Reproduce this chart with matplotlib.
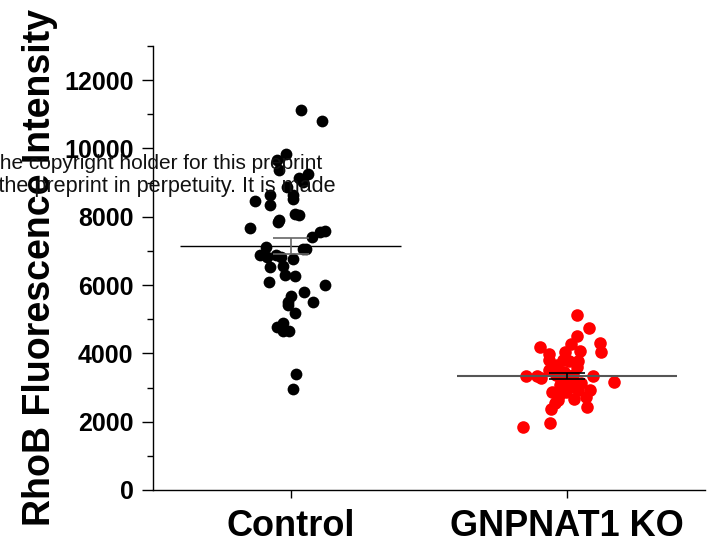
import matplotlib
matplotlib.use("Agg")
import matplotlib.pyplot as plt
import numpy as np

plt.rcParams['font.family'] = ['Liberation Sans', 'DejaVu Sans']

# groups
groups = ["Control", "GNPNAT1 KO"]

# control cells: intensity and horizontal scatter offset
ctrl_vals = [11120, 10790, 9850, 9650, 9380, 9265, 9120, 9030, 8880, 8650,
             8650, 8530, 8470, 8350, 8090, 8060, 7850, 7910, 7680, 7410,
             7560, 7590, 7120, 6880, 6820, 6880, 6820, 7060, 7060, 6760,
             6530, 6560, 6290, 6260, 6090, 6000, 5790, 5680, 5500, 5410,
             5500, 5180, 4760, 4880, 4650, 4650, 3410, 2970]
ctrl_off = [0.036, 0.113, -0.018, -0.051, -0.044, 0.062, 0.029, 0.044, -0.015, -0.076,
            0.007, 0.007, -0.131, -0.076, 0.015, 0.029, -0.047, -0.044, -0.149, 0.076,
            0.105, 0.124, -0.091, -0.113, -0.087, -0.055, -0.036, 0.044, 0.055, 0.007,
            -0.076, -0.029, -0.022, 0.015, -0.080, 0.124, 0.047, 0.000, -0.011, -0.011,
            0.080, 0.015, -0.051, -0.029, -0.029, -0.007, 0.018, 0.007]

# knockout cells
ko_vals = [5120, 4735, 4500, 4265, 4295, 4030, 4175, 4060, 4030, 3970,
           3795, 3795, 3765, 3765, 3590, 3500, 3325, 3325, 3265, 3380,
           3440, 3380, 3325, 3175, 2880, 3060, 3000, 2795, 2940, 2940,
           2675, 2735, 2645, 2560, 2380, 2440, 1970, 1855, 3235, 3145,
           2880, 3145, 3645]
ko_off = [0.036, 0.080, 0.036, 0.015, 0.120, 0.124, -0.098, 0.047, -0.007, -0.065,
          -0.065, -0.015, 0.007, 0.040, 0.036, -0.065, -0.149, -0.109, -0.095, -0.040,
          -0.011, 0.022, 0.095, 0.171, -0.055, -0.025, 0.004, -0.029, 0.040, 0.084,
          0.025, 0.069, -0.033, -0.044, -0.058, 0.073, -0.062, -0.160, -0.022, 0.015,
          -0.004, 0.051, -0.036]

# mean and SEM
means = [7147, 3335]
sems = [245, 100]

fig = plt.figure(figsize=(7.11, 5.46), dpi=100)
ax = fig.add_axes([0.215, 0.1026, 0.7766, 0.8132])

# preprint watermark behind the data
fig.text(0.453, 0.701, "The copyright holder for this preprint", ha='right',
         va='center', fontsize=15, color='#111111', zorder=0)
fig.text(0.472, 0.658, "to display the preprint in perpetuity. It is made", ha='right',
         va='center', fontsize=15.6, color='#111111', zorder=0)
ax.set_facecolor('none')

ax.scatter(1 + np.array(ctrl_off), ctrl_vals, s=72, color='black',
           linewidths=0, zorder=3)
ax.scatter(2 + np.array(ko_off), ko_vals, s=82, color='#ff0000',
           linewidths=0, zorder=3)

# mean lines and error bars
ax.hlines(means[0], 0.6, 1.4, color='black', lw=1.0, zorder=4)
ax.hlines(means[1], 1.6, 2.4, color='#555555', lw=1.5, zorder=4)
ax.errorbar([1], [means[0]], yerr=[sems[0]], fmt='none', ecolor='#666666',
            elinewidth=1.2, capsize=13, capthick=1.2, zorder=5)
ax.errorbar([2], [means[1]], yerr=[sems[1]], fmt='none', ecolor='black',
            elinewidth=1.2, capsize=13, capthick=1.2, zorder=5)

ax.set_xlim(0.5, 2.5)
ax.set_ylim(0, 13000)
ax.set_xticks([1, 2])
ax.set_xticklabels(groups, fontsize=26, fontweight='bold')
ax.set_yticks(np.arange(0, 12001, 2000))
ax.set_yticks(np.arange(1000, 13001, 2000), minor=True)
for lab in ax.get_yticklabels():
    lab.set_fontsize(18)
    lab.set_fontweight('bold')
ax.tick_params(axis='y', which='major', length=8, width=1, direction='out', pad=6)
ax.tick_params(axis='y', which='minor', length=4, width=1, direction='out')
ax.tick_params(axis='x', length=6, width=1, direction='out', pad=8)
ax.set_ylabel("RhoB Fluorescence Intensity", fontsize=27, fontweight='bold')
ax.yaxis.set_label_coords(-0.172, 0.5)

for s in ['top', 'right']:
    ax.spines[s].set_visible(False)
for s in ['left', 'bottom']:
    ax.spines[s].set_linewidth(1)

fig.savefig("out.png", dpi=100)
